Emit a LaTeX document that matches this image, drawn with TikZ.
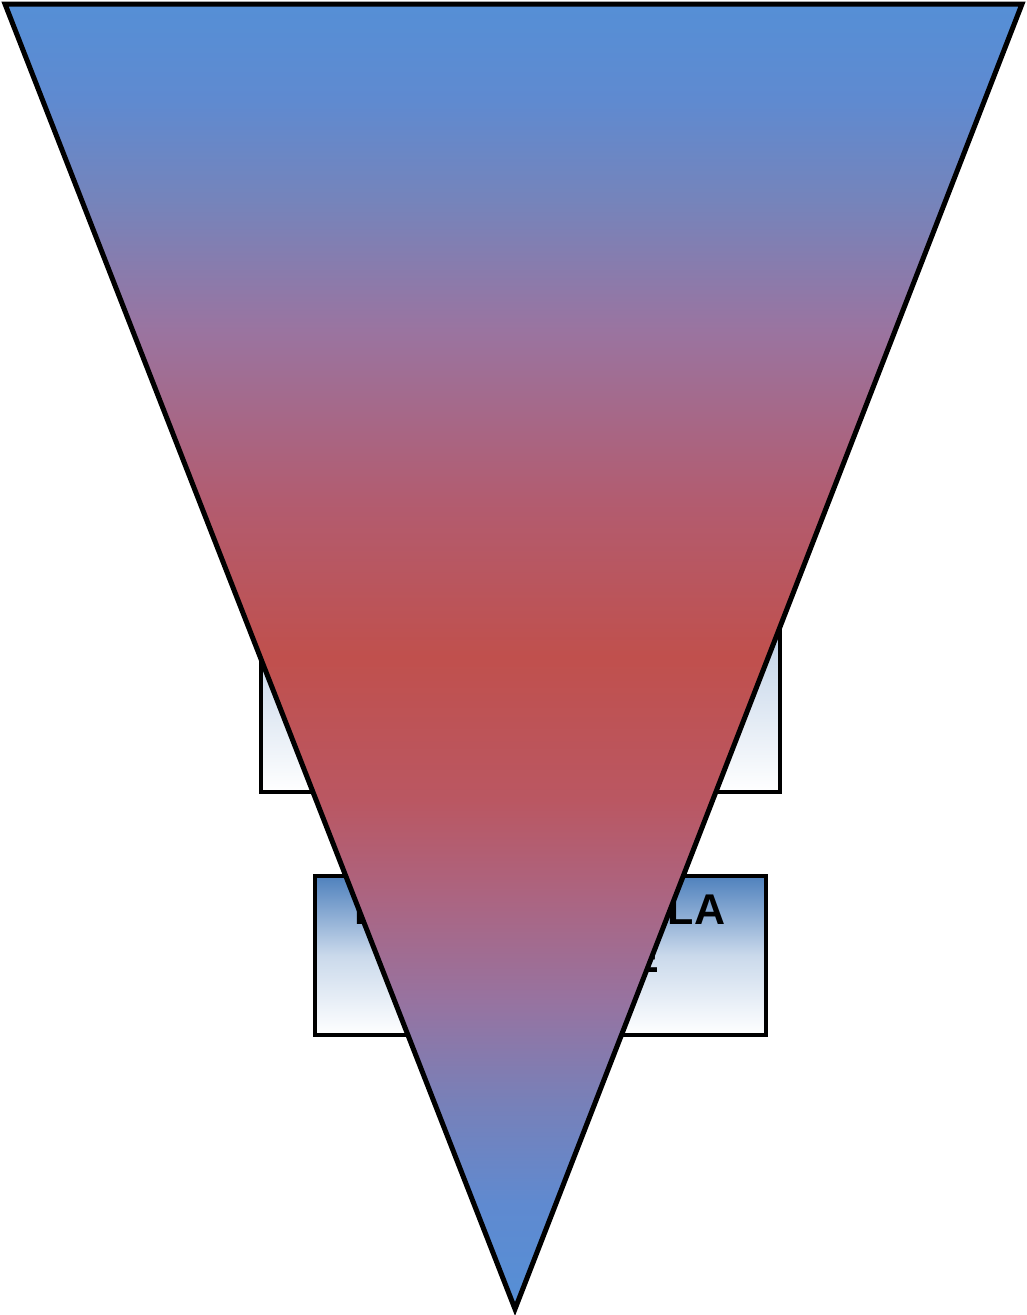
\documentclass[tikz,border=0pt]{standalone}
\usepackage{fontspec}
\setmainfont{Liberation Sans}
\usepackage{tikz}
\usetikzlibrary{positioning}
\definecolor{cTri}{HTML}{558FD6}
\definecolor{cRed}{HTML}{C0504D}
\definecolor{cPanel}{HTML}{4F81BD}
\colorlet{cPanelMid}{cPanel!30!white}
% funnel blend, sampled top to bottom
\definecolor{fA}{HTML}{5F8AD0}
\definecolor{fB}{HTML}{7584BB}
\definecolor{fC}{HTML}{9A74A0}
\definecolor{fD}{HTML}{B25C70}
\definecolor{fE}{HTML}{BA5762}
\definecolor{fF}{HTML}{AB6582}
\definecolor{fG}{HTML}{9773A0}
\definecolor{fH}{HTML}{7880B8}
\pgfdeclareverticalshading{panelfade}{100bp}{color(0bp)=(white); color(25bp)=(white);
  color(50bp)=(cPanelMid); color(75bp)=(cPanel); color(100bp)=(cPanel)}
\pgfdeclareverticalshading{funnelfade}{100bp}{color(0bp)=(cTri); color(25bp)=(cTri);
  color(29bp)=(fA); color(33bp)=(fH); color(36.8bp)=(fG); color(40.7bp)=(fF);
  color(44.5bp)=(fE); color(50bp)=(cRed); color(56bp)=(fD); color(62.5bp)=(fC);
  color(67.5bp)=(fB); color(71.3bp)=(fA); color(75bp)=(cTri); color(100bp)=(cTri)}
\tikzset{
  panel/.style={draw=black, line width=4pt, shading=panelfade, inner sep=0pt,
                outer sep=0pt, minimum width=#1},
  funnel/.style={draw=black, line width=5pt, line join=miter, shading=funnelfade},
  lbl/.style={font=\fontsize{43}{48}\selectfont\bfseries, align=center, inner sep=0pt},
}
\begin{document}
\begin{tikzpicture}[x=1pt, y=-1pt]
  \useasboundingbox (0,0) rectangle (1026,1315);

  % panels behind the funnel
  \node[panel=519pt, minimum height=272pt, anchor=south west] (panela) at (261,792) {};
  \node[panel=451pt, minimum height=159pt, anchor=north west] (panelb) at (314.5,876) {};
  \node[lbl, below=19pt of panelb.north] (panelbtxt) {FIDELIDAD DE LA\\CLIENTELE};

  % funnel
  \coordinate (tl) at (5,4);
  \coordinate (tr) at (1022,4);
  \coordinate (tip) at (515,1309);
  \draw[funnel] (tl) -- (tr) -- (tip) -- cycle;
\end{tikzpicture}
\end{document}
